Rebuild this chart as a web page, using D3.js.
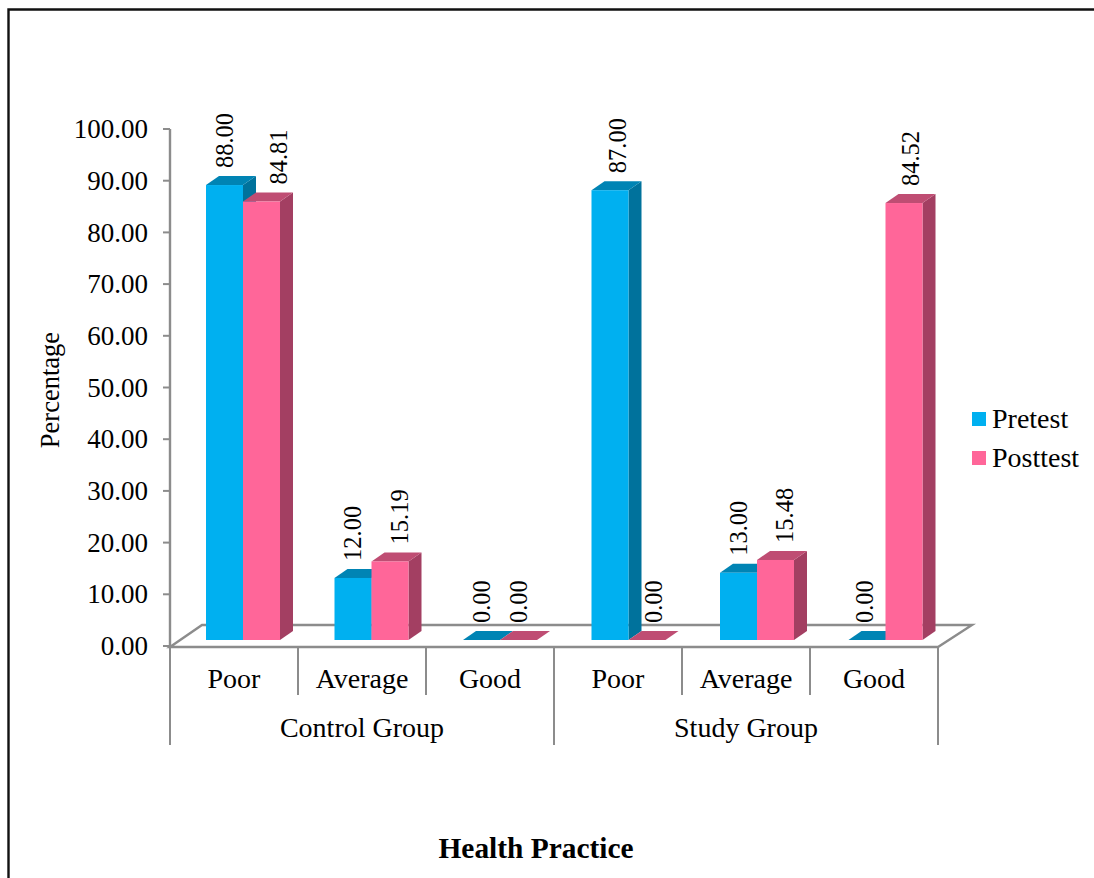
<!DOCTYPE html>
<html>
<head>
<meta charset="utf-8">
<script src="https://cdn.jsdelivr.net/npm/d3@7/dist/d3.min.js"></script>
<style>
html,body{margin:0;padding:0;background:#fff;overflow:hidden}
svg{display:block}
text{font-family:"Liberation Serif",serif;fill:#000}
</style>
</head>
<body>
<svg id="chart" width="1094" height="878"></svg>
<script>
// Source values
const groups = ["Control Group", "Study Group"];
const levels = ["Poor", "Average", "Good"];
const seriesNames = ["Pretest", "Posttest"];
const pretest = [88.00, 12.00, 0.00, 87.00, 13.00, 0.00];
const posttest = [84.81, 15.19, 0.00, 0.00, 15.48, 84.52];
const yTicks = [0, 10, 20, 30, 40, 50, 60, 70, 80, 90, 100];
const palette = {
  Pretest: {front: "#00b0f0", top: "#0084b4", side: "#00729c"},
  Posttest: {front: "#ff6699", top: "#bf4d73", side: "#a33f62"}
};
// Hand-placed sideways shift of each value label, per series
const labelShift = {
  Pretest: [0, 0, 0, 8, 0, -2],
  Posttest: [17, 10, 0, 7, 9, 7]
};

const svg = d3.select("#chart");
const axisColor = "#8c8c8c";
const depthX = 13, depthY = -9;       // bar extrusion
const floorX = 32, floorY = -22;      // floor extrusion

// Scales
const y = d3.scaleLinear().domain([0, 100]).range([646, 129]);
const cellKeys = d3.range(levels.length * groups.length);
const xAxisBand = d3.scaleBand().domain(cellKeys).range([170, 938]);
const xGroupBand = d3.scaleBand().domain(groups).range([170, 938]);
const xBars = d3.scaleBand().domain(cellKeys).range([206, 977]);
const xSeries = d3.scaleBand().domain(seriesNames).range([0, 74]);
const barBaseShift = 6;   // bars stand slightly behind the front floor edge

// Page frame
svg.append("path").attr("d", "M8.5,878V9.5H1094").attr("fill", "none")
  .attr("stroke", "#111").attr("stroke-width", 2.4);

// Floor
const fy = y(0) + 1;
svg.append("path")
  .attr("d", `M170,${fy}L${170 + floorX},${fy + floorY}H${938 + floorX + 2}L938,${fy}Z`)
  .attr("fill", "#fff").attr("stroke", axisColor).attr("stroke-width", 2.4);

// Value axis
const yAxisG = svg.append("g");
yAxisG.append("line").attr("x1", 170).attr("x2", 170).attr("y1", y(100)).attr("y2", y(0) + 1)
  .attr("stroke", axisColor).attr("stroke-width", 2.4);
const tick = yAxisG.selectAll("g").data(yTicks).join("g")
  .attr("transform", d => `translate(0,${y(d)})`);
tick.append("line").attr("x1", 163).attr("x2", 170).attr("stroke", axisColor).attr("stroke-width", 2);
tick.append("text").attr("x", 148).attr("dy", "0.34em").attr("text-anchor", "end")
  .attr("font-size", 27).text(d => d3.format(".2f")(d));

svg.append("text")
  .attr("transform", "translate(59,390) rotate(-90)")
  .attr("text-anchor", "middle").attr("font-size", 26.5).text("Percentage");

// Category axis: two-level labels with separators
const cells = cellKeys.map(i => ({
  i,
  level: levels[i % levels.length],
  group: groups[Math.floor(i / levels.length)],
  pre: pretest[i],
  post: posttest[i]
}));
const catG = svg.append("g");
cellKeys.concat([cellKeys.length]).forEach(i => {
  const px = i < cellKeys.length ? xAxisBand(i) : xAxisBand.range()[1];
  const major = i % levels.length === 0;
  catG.append("line").attr("x1", px).attr("x2", px).attr("y1", fy)
    .attr("y2", major ? 745 : 695).attr("stroke", axisColor).attr("stroke-width", 2);
});
catG.selectAll("text.level").data(cells).join("text").attr("class", "level")
  .attr("x", d => xAxisBand(d.i) + xAxisBand.bandwidth() / 2).attr("y", 688)
  .attr("text-anchor", "middle").attr("font-size", 28).text(d => d.level);
catG.selectAll("text.group").data(groups).join("text").attr("class", "group")
  .attr("x", d => xGroupBand(d) + xGroupBand.bandwidth() / 2).attr("y", 737)
  .attr("text-anchor", "middle").attr("font-size", 28).text(d => d);

// Extruded bars, drawn left to right so nearer faces overlap correctly
const barW = xSeries.bandwidth();
const marks = cells.flatMap(c => [
  {cell: c, name: "Pretest", value: c.pre},
  {cell: c, name: "Posttest", value: c.post}
]);
const bar = svg.append("g").selectAll("g").data(marks).join("g");
bar.each(function(d) {
  const g = d3.select(this);
  const c = palette[d.name];
  const x0 = xBars(d.cell.i) + xSeries(d.name), x1 = x0 + barW;
  const base = y(0) - barBaseShift, top = y(d.value) - barBaseShift;
  g.append("path")
    .attr("d", `M${x1},${top}L${x1 + depthX},${top + depthY}V${base + depthY}L${x1},${base}Z`)
    .attr("fill", d.value > 0 ? c.side : "none");
  g.append("path")
    .attr("d", `M${x0},${top}L${x0 + depthX},${top + depthY}H${x1 + depthX}L${x1},${top}Z`)
    .attr("fill", c.top);
  g.append("rect").attr("x", x0).attr("y", top).attr("width", barW)
    .attr("height", base - top).attr("fill", c.front);
});

// Value labels, rotated above each bar
bar.append("text")
  .attr("transform", d => {
    const cx = xBars(d.cell.i) + xSeries(d.name) + barW / 2 + labelShift[d.name][d.cell.i];
    return `translate(${cx},${y(d.value) - 23}) rotate(-90)`;
  })
  .attr("dy", "0.34em").attr("font-size", 24.5)
  .text(d => d3.format(".2f")(d.value));

// Legend
const legend = svg.append("g").selectAll("g").data(seriesNames).join("g")
  .attr("transform", (d, i) => `translate(972,${412 + i * 39})`);
legend.append("rect").attr("width", 14).attr("height", 14).attr("fill", d => palette[d].front);
legend.append("text").attr("x", 20).attr("y", 16).attr("font-size", 28).text(d => d);

// Axis title
svg.append("text").attr("x", 536).attr("y", 858).attr("text-anchor", "middle")
  .attr("font-size", 29.4).attr("font-weight", "bold").text("Health Practice");
</script>
</body>
</html>
